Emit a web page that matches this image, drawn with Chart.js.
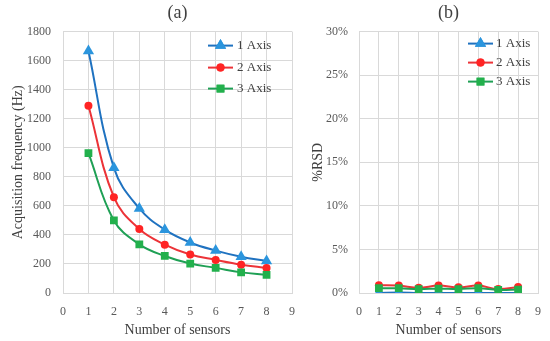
<!DOCTYPE html>
<html>
<head>
<meta charset="utf-8">
<script src="https://cdn.jsdelivr.net/npm/chart.js@4.4.1/dist/chart.umd.min.js"></script>
<style>
  html, body { margin: 0; padding: 0; background: #fff; }
  #wrap { position: relative; width: 550px; height: 341px; }
  .box { position: absolute; top: 0; height: 341px; }
  #boxA { left: 0; width: 300px; }
  #boxB { left: 300px; width: 250px; }
</style>
</head>
<body>
<div id="wrap">
  <div class="box" id="boxA"><canvas id="freqChart"></canvas></div>
  <div class="box" id="boxB"><canvas id="rsdChart"></canvas></div>
</div>
<script>
(function () {
  "use strict";

  // data
  const sensors = [1, 2, 3, 4, 5, 6, 7, 8];
  const seriesNames = ["1 Axis", "2 Axis", "3 Axis"];
  const freq1Axis = [1667, 862, 582, 436, 348, 292, 250, 220];
  const freq2Axis = [1290, 660, 440, 333, 265, 228, 195, 172];
  const freq3Axis = [963, 500, 335, 255, 203, 173, 142, 125];
  const rsd1Axis = [0, 0.05, 0, 0, 0, 0, 0, 0];
  const rsd2Axis = [0.9, 0.85, 0.6, 0.85, 0.65, 0.85, 0.45, 0.7];
  const rsd3Axis = [0.55, 0.55, 0.45, 0.5, 0.45, 0.55, 0.35, 0.4];
  const xTicks = [0, 1, 2, 3, 4, 5, 6, 7, 8, 9];
  const freqTicks = [0, 200, 400, 600, 800, 1000, 1200, 1400, 1600, 1800];
  const rsdTicks = [0, 5, 10, 15, 20, 25, 30];

  const palette = {
    blue: "#1f72c0",
    blueMark: "#2b95dd",
    red: "#ec3338",
    redMark: "#ff2424",
    green: "#1fa055",
    greenMark: "#22b04c",
    grid: "#d9d9d9",
    tick: "#595959",
    text: "#404040"
  };
  const styles = [
    { line: palette.blue, mark: palette.blueMark, shape: "triangle", r: 6.5 },
    { line: palette.red, mark: palette.redMark, shape: "circle", r: 4 },
    { line: palette.green, mark: palette.greenMark, shape: "rect", r: 5.5 }
  ];
  const family = "\"Liberation Serif\", \"Times New Roman\", serif";

  Chart.defaults.font.family = family;
  Chart.defaults.color = palette.tick;
  Chart.defaults.animation = false;

  const pts = values => sensors.map((s, i) => ({ x: s, y: values[i] }));

  function dataset(i, values) {
    const st = styles[i];
    return {
      label: seriesNames[i],
      data: pts(values),
      borderColor: st.line,
      backgroundColor: st.mark,
      borderWidth: 2,
      pointStyle: st.shape,
      pointRadius: st.r,
      pointBorderWidth: 0,
      pointBackgroundColor: st.mark,
      tension: 0.4,
      order: 2 - i
    };
  }

  // legend drawn inside the plot, top right
  const insideLegend = {
    id: "insideLegend",
    afterDatasetsDraw(chart, args, opts) {
      const { ctx, chartArea } = chart;
      ctx.save();
      ctx.font = `13px ${family}`;
      ctx.textBaseline = "middle";
      seriesNames.forEach((name, i) => {
        const st = styles[i];
        const y = chartArea.top + opts.rows[i];
        const x0 = chartArea.right - opts.lineFrom;
        const x1 = chartArea.right - opts.lineTo;
        ctx.strokeStyle = st.line;
        ctx.lineWidth = 2;
        ctx.beginPath();
        ctx.moveTo(x0, y);
        ctx.lineTo(x1, y);
        ctx.stroke();
        ctx.fillStyle = st.mark;
        Chart.helpers.drawPoint(ctx, { pointStyle: st.shape, radius: st.r, borderWidth: 0 }, (x0 + x1) / 2, y);
        ctx.fill();
        ctx.fillStyle = palette.text;
        ctx.fillText(name, chartArea.right - opts.textAt, y);
      });
      ctx.restore();
    }
  };

  function makeChart(id, cfg) {
    return new Chart(document.getElementById(id), {
      type: "line",
      data: { datasets: cfg.datasets },
      plugins: [insideLegend],
      options: {
        responsive: true,
        maintainAspectRatio: false,
        layout: { padding: { left: 0, right: cfg.padRight, top: 0, bottom: 0 } },
        plugins: {
          legend: { display: false },
          tooltip: { enabled: false },
          title: {
            display: true,
            fullSize: false,
            text: cfg.title,
            color: palette.text,
            font: { size: 18, weight: "normal" },
            padding: { top: 2, bottom: 8 }
          },
          insideLegend: cfg.legend
        },
        scales: {
          x: {
            type: "linear",
            min: 0,
            max: 9,
            afterBuildTicks: s => { s.ticks = xTicks.map(v => ({ value: v })); },
            afterFit: s => {
              s.height = 48;
              s.paddingLeft = 0;
              s.paddingRight = 0;
            },
            grid: { color: palette.grid, drawTicks: false },
            border: { color: palette.grid },
            ticks: { padding: 12, font: { size: 12 }, color: palette.tick },
            title: {
              display: true,
              text: "Number of sensors",
              color: palette.text,
              font: { size: 14 },
              padding: { top: 0, bottom: 2 }
            }
          },
          y: {
            min: 0,
            max: cfg.yMax,
            afterBuildTicks: s => { s.ticks = cfg.yTicks.map(v => ({ value: v })); },
            afterFit: s => { s.width = cfg.yWidth; },
            grid: { color: palette.grid, drawTicks: false },
            border: { color: palette.grid },
            ticks: { padding: cfg.yPad, font: { size: 12 }, color: palette.tick, callback: cfg.yFmt },
            title: {
              display: true,
              text: cfg.yTitle,
              color: palette.text,
              font: { size: 14 },
              padding: { top: 10, bottom: 0 }
            }
          }
        }
      }
    });
  }

  makeChart("freqChart", {
    title: "(a)",
    datasets: [dataset(0, freq1Axis), dataset(1, freq2Axis), dataset(2, freq3Axis)],
    yMax: 1800,
    yTicks: freqTicks,
    yWidth: 63,
    yPad: 12,
    yFmt: v => String(v),
    yTitle: "Acquisition frequency (Hz)",
    padRight: 8,
    legend: { lineFrom: 84, lineTo: 59, textAt: 55, rows: [14, 36, 57] }
  });

  makeChart("rsdChart", {
    title: "(b)",
    datasets: [dataset(0, rsd1Axis), dataset(1, rsd2Axis), dataset(2, rsd3Axis)],
    yMax: 30,
    yTicks: rsdTicks,
    yWidth: 59,
    yPad: 11,
    yFmt: v => `${v}%`,
    yTitle: "%RSD",
    padRight: 12,
    legend: { lineFrom: 70, lineTo: 45, textAt: 42, rows: [12, 31, 50] }
  });
})();
</script>
</body>
</html>
